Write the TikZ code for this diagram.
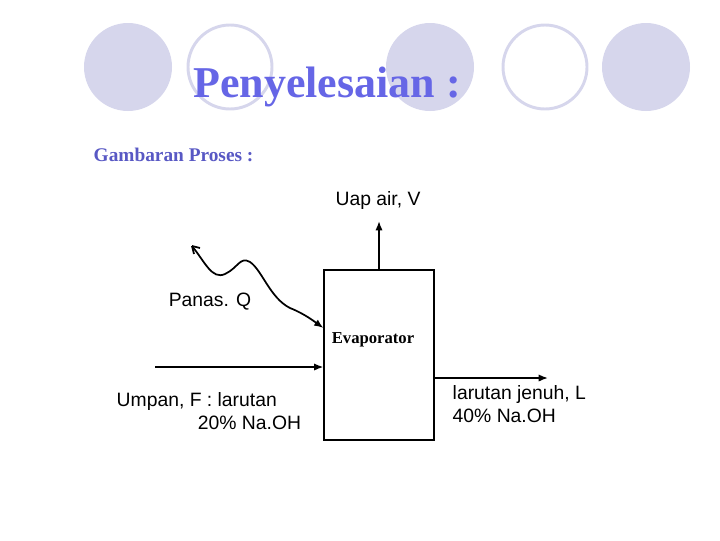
\documentclass[tikz,border=0pt]{standalone}
\usepackage{fontspec}
\setmainfont{Liberation Serif}
\newfontfamily\comicfont{Liberation Sans}
\usetikzlibrary{arrows.meta}
\definecolor{dotfill}{RGB}{214,214,236}
\definecolor{titleblue}{RGB}{102,102,230}
\definecolor{subblue}{RGB}{88,88,196}
\begin{document}
\begin{tikzpicture}[x=0.75pt, y=-0.75pt]
    \useasboundingbox (0,0) rectangle (720,540);
    \tikzset{dot/.style = {fill=dotfill}}
    \tikzset{ring/.style = {draw=dotfill, line width=2.2pt, fill=white}}
    \tikzset{label/.style = {font=\comicfont\fontsize{14.5}{17}\selectfont, align=left}}
    \tikzset{flow/.style = {-{Latex[length=7pt,width=5.5pt]}, line width=1.3pt}}
    % circles on top
    \fill[dot] (128,67) circle (44);
    \draw[ring] (230,67) circle (42);
    \fill[dot] (430,67) circle (44);
    \draw[ring] (545,67) circle (42);
    \fill[dot] (646,67) circle (44);
    \node[text=titleblue, font=\bfseries\fontsize{33}{36}\selectfont] (title) at (327,87) {Penyelesaian :};
    \node[text=subblue, font=\bfseries\fontsize{14.5}{17}\selectfont, anchor=west] (sub) at (89,155) {Gambaran Proses :};
    % evaporator
    \node[draw, line width=0.8pt, minimum width=82.5pt, minimum height=127.5pt] (evap) at (379,355) {};
    \node[font=\bfseries\fontsize{12.5}{14}\selectfont] (evlabel) at (373,340) {Evaporator};
    % streams
    \coordinate (vtop) at (379,221);
    \coordinate (fin) at (155,367);
    \coordinate (lout) at (548,378);
    \coordinate (qin) at (192,246);
    \draw[flow] (evap.north -| vtop) -- (vtop);
    \draw[flow] (fin) -- (evap.west |- fin);
    \draw[flow] (evap.east |- lout) -- (lout);
    \draw[flow] (qin) .. controls (205,262) and (212,280) .. (225,274)
        .. controls (238,268) and (240,256) .. (250,262)
        .. controls (262,270) and (270,298) .. (290,308)
        .. controls (305,314) and (315,322) .. (evap.west |- 0,328);
    \draw[line width=1.3pt] (qin) -- ++(2,8);
    \draw[line width=1.3pt] (qin) -- ++(8,2);
    % labels
    \node[label] (vlabel) at (378,200) {Uap air, V};
    \node[label] (qlabel) at (210,302) {Panas. Q};
    \node[label, anchor=north west] (flabel) at (112,388) {Umpan, F : larutan\\ \hspace*{4.2em}20\% Na.OH};
    \node[label, anchor=north west] (llabel) at (448,381) {larutan jenuh, L\\ 40\% Na.OH};
\end{tikzpicture}
\end{document}
